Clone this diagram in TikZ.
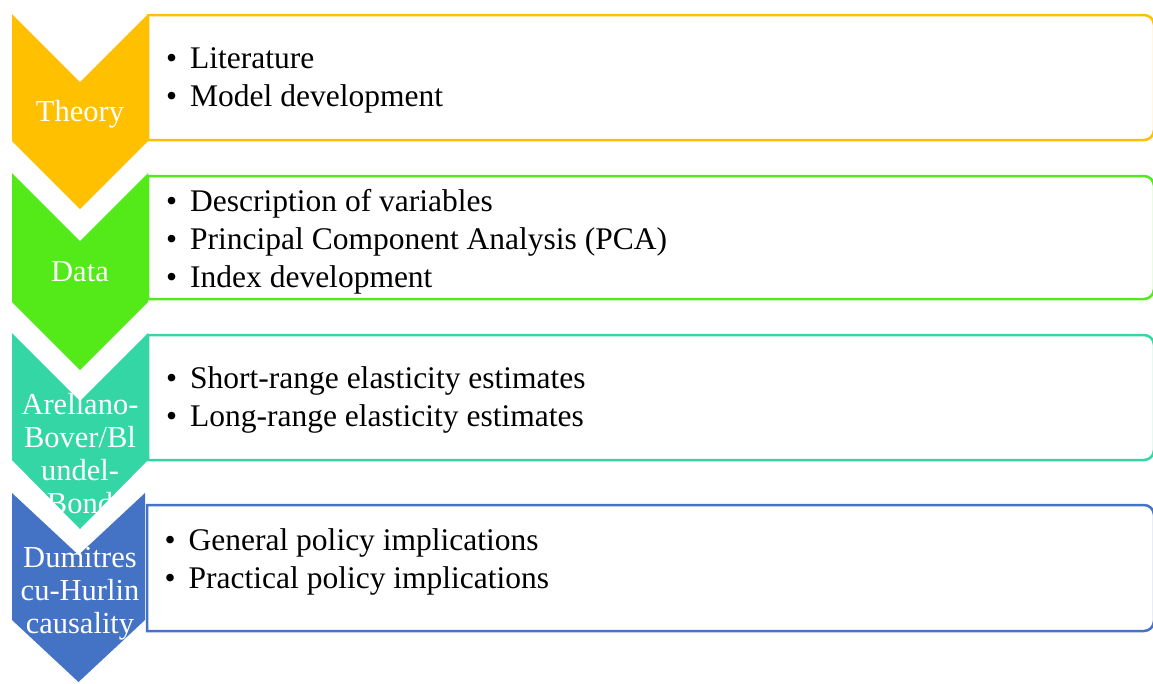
\documentclass[tikz,border=0pt]{standalone}
\usepackage{fontspec}
\setmainfont{Liberation Serif}
\usepackage{tikz}
\definecolor{theoryorange}{RGB}{255, 192, 0}
\definecolor{datagreen}{RGB}{84, 234, 26}
\definecolor{gmmteal}{RGB}{51, 214, 164}
\definecolor{causalblue}{RGB}{68, 114, 196}
% one bullet line inside a panel
\newcommand{\pointitem}[1]{\makebox[24pt][l]{\textbullet}#1}
% panel with square left corners and round right ones: left x, top y, bottom y
\newcommand{\panelpath}[3]{(#1,#2) -- (1144,#2) arc[start angle=-90, end angle=0, radius=10]
    -- (1154,#3-10) arc[start angle=0, end angle=90, radius=10] -- (#1,#3) -- cycle}

\begin{document}
\begin{tikzpicture}[x=1pt, y=-1pt,
    stage/.style={text=white, align=center, inner sep=0pt,
        font=\fontsize{30.5}{33}\selectfont},
    points/.style={anchor=west, align=left, inner sep=0pt,
        font=\fontsize{31.5}{38}\selectfont},
    panel/.style={line width=2.5pt, fill=white}]
\useasboundingbox (0,0) rectangle (1153,683);

% panels with the bullet lists
\draw[panel, draw=theoryorange] \panelpath{148}{15}{140};
\draw[panel, draw=datagreen] \panelpath{148}{176}{299};
\draw[panel, draw=gmmteal] \panelpath{148}{335}{460};
\draw[panel, draw=causalblue] \panelpath{147}{505}{631};

% chevrons down the left side
\fill[theoryorange] (12,14) -- (80,82) -- (148,14) -- (148,141) -- (80,209) -- (12,141) -- cycle;
\fill[datagreen] (12,173) -- (80,241) -- (148,173) -- (148,302) -- (80,370) -- (12,302) -- cycle;
\fill[gmmteal] (12,333) -- (80,401) -- (148,333) -- (148,460) -- (80,529) -- (12,460) -- cycle;
\fill[causalblue] (12,493) -- (78.5,555) -- (145,493) -- (145,620) -- (78.5,682) -- (12,620) -- cycle;

% chevron labels
\node[stage] (theory) at (80,114.3) {Theory};
\node[stage] (data) at (80,271.6) {Data};
\node[stage] (gmm) at (80,453.1) {Arellano-\\Bover/Bl\\undel-\\Bond};
\node[stage] (causality) at (80,593.3) {Dumitres\\cu-Hurlin\\causality};

% bullet lists
\node[points] (theorylist) at (166,80.7) {\pointitem{Literature}\\
    \pointitem{Model development}};
\node[points] (datalist) at (166,241.3) {\pointitem{Description of variables}\\
    \pointitem{Principal Component Analysis (PCA)}\\
    \pointitem{Index development}};
\node[points] (gmmlist) at (166,399.5) {\pointitem{Short-range elasticity estimates}\\
    \pointitem{Long-range elasticity estimates}};
\node[points] (causlist) at (164.5,561.7) {\pointitem{General policy implications}\\
    \pointitem{Practical policy implications}};
\end{tikzpicture}
\end{document}
